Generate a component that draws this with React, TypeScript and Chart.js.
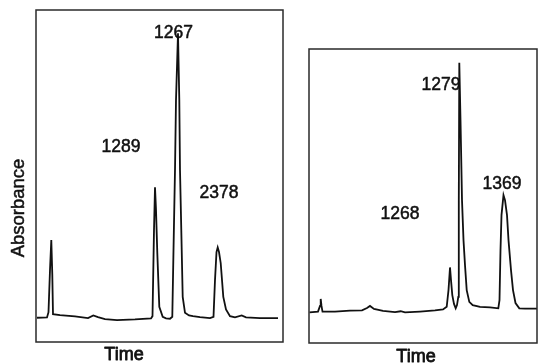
import React, { useEffect, useRef } from "react";
import { Chart, registerables } from "chart.js";

Chart.register(...registerables);

// Left chromatogram (time in min, absorbance in relative units)
const leftTime = [0.1, 1.1, 1.25, 1.4, 1.53, 1.63, 1.7, 2.4, 3.9, 5.2, 5.73, 6.2, 6.9, 8.1, 9.9, 11.5, 11.65, 11.8, 11.9, 12.0, 12.13, 12.33, 12.67, 13.0, 13.4, 13.63, 13.75, 13.9, 14.0, 14.2, 14.33, 14.4, 14.55, 14.67, 14.9, 15.3, 15.7, 16.4, 17.4, 17.75, 17.9, 18.05, 18.17, 18.3, 18.47, 18.73, 19.0, 19.4, 19.9, 20.57, 21.0, 22.4, 24.2];
const leftAbs = [7.3, 7.4, 9.0, 21.7, 30.7, 20.2, 8.4, 8.1, 7.7, 7.2, 8.0, 7.5, 6.9, 6.6, 6.8, 7.1, 7.8, 33.7, 46.6, 39.8, 26.8, 10.6, 7.6, 7.1, 7.0, 7.6, 27.7, 51.8, 72.9, 93.0, 72.9, 51.8, 30.7, 13.6, 8.8, 8.0, 7.8, 7.5, 7.2, 7.6, 18.7, 27.1, 28.5, 27.1, 23.8, 13.6, 9.8, 7.8, 7.4, 8.0, 7.4, 7.2, 7.2];
const leftPeakLabels = ["1267", "1289", "2378"];
const leftPeakLabelX = [13.75, 8.5, 18.3];
const leftPeakLabelY = [93.5, 59.2, 45.2];

// Right chromatogram
const rightTime = [0.05, 0.9, 1.1, 1.17, 1.25, 1.35, 2.6, 4.1, 5.3, 5.8, 6.1, 6.5, 7.4, 8.6, 9.17, 9.6, 11.1, 12.6, 13.4, 13.77, 13.95, 14.1, 14.2, 14.33, 14.5, 14.67, 14.8, 14.93, 14.98, 15.03, 15.15, 15.3, 15.45, 15.6, 15.77, 16.03, 16.37, 17.1, 18.1, 18.93, 19.05, 19.15, 19.25, 19.45, 19.6, 19.8, 19.95, 20.2, 20.4, 20.65, 21.03, 21.6, 22.8];
const rightAbs = [10.4, 10.7, 12.6, 15.0, 12.6, 10.7, 10.7, 11.0, 11.1, 11.9, 12.6, 11.6, 10.9, 10.5, 10.8, 10.4, 10.7, 11.1, 11.4, 12.3, 18.0, 25.7, 21.4, 16.3, 13.3, 11.8, 12.9, 15.7, 48.6, 95.3, 75.9, 48.6, 35.0, 26.5, 18.0, 14.0, 12.9, 12.3, 12.1, 11.8, 14.6, 31.6, 43.5, 50.3, 48.6, 43.5, 35.0, 24.8, 18.0, 13.6, 11.8, 11.7, 11.7];
const rightPeakLabels = ["1279", "1369", "1268"];
const rightPeakLabelX = [13.2, 19.3, 9.1];
const rightPeakLabelY = [88.1, 54.4, 44.2];

const INK = "#111111";
const FONT = "'Liberation Sans', Arial, sans-serif";

type Panel = {
  width: number;
  height: number;
  left: number;
  padding: { left: number; right: number; top: number; bottom: number };
  xMax: number;
  time: number[];
  abs: number[];
  labels: string[];
  labelX: number[];
  labelY: number[];
  timePos: [number, number];
  absorbancePos: [number, number] | null;
};

function drawText(ctx: CanvasRenderingContext2D, t: string, x: number, y: number, w: number) {
  ctx.fillText(t, x, y);
  ctx.lineWidth = w;
  ctx.strokeText(t, x, y);
}

function makePlugin(p: Panel) {
  return {
    id: "chromDecor",
    afterDraw(chart: any) {
      const ctx = chart.ctx as CanvasRenderingContext2D;
      const a = chart.chartArea;
      ctx.save();
      ctx.strokeStyle = "#2a2a2a";
      ctx.lineWidth = 1.5;
      ctx.strokeRect(a.left, a.top, a.right - a.left, a.bottom - a.top);
      ctx.fillStyle = INK;
      ctx.strokeStyle = INK;
      ctx.lineJoin = "round";
      const xs = chart.scales.x;
      const ys = chart.scales.y;
      const size = 17.5;
      ctx.font = `${size}px ${FONT}`;
      ctx.textAlign = "center";
      ctx.textBaseline = "alphabetic";
      p.labels.forEach((t, i) => {
        const px = xs.getPixelForValue(p.labelX[i]);
        const py = ys.getPixelForValue(p.labelY[i]);
        drawText(ctx, t, px, py + size * 0.358, 0.5);
      });
      const ts = 18;
      ctx.font = `${ts}px ${FONT}`;
      drawText(ctx, "Time", p.timePos[0], p.timePos[1] + ts * 0.358, 0.8);
      if (p.absorbancePos) {
        ctx.translate(p.absorbancePos[0], p.absorbancePos[1]);
        ctx.rotate(-Math.PI / 2);
        ctx.font = `18.5px ${FONT}`;
        drawText(ctx, "Absorbance", 0, 18.5 * 0.358, 0.5);
      }
      ctx.restore();
    },
  };
}

function PanelChart({ p }: { p: Panel }) {
  const ref = useRef<HTMLCanvasElement | null>(null);
  useEffect(() => {
    if (!ref.current) return;
    const chart = new Chart(ref.current, {
      type: "line",
      data: {
        datasets: [
          {
            data: p.time.map((t, i) => ({ x: t, y: p.abs[i] })),
            borderColor: INK,
            borderWidth: 1.8,
            pointRadius: 0,
            tension: 0,
            fill: false,
          },
        ],
      },
      options: {
        animation: false,
        responsive: false,
        maintainAspectRatio: false,
        devicePixelRatio: 1,
        layout: { padding: p.padding },
        plugins: { legend: { display: false }, tooltip: { enabled: false }, title: { display: false } },
        scales: {
          x: { type: "linear", min: 0, max: p.xMax, display: false },
          y: { type: "linear", min: 0, max: 100, display: false },
        },
      },
      plugins: [makePlugin(p)],
    });
    return () => chart.destroy();
  }, []);
  return (
    <canvas
      ref={ref}
      width={p.width}
      height={p.height}
      style={{ position: "absolute", left: p.left, top: 0, width: p.width, height: p.height }}
    />
  );
}

const leftPanel: Panel = {
  width: 300,
  height: 363,
  left: 0,
  padding: { left: 36, right: 17, top: 10, bottom: 21 },
  xMax: 24.7,
  time: leftTime,
  abs: leftAbs,
  labels: leftPeakLabels,
  labelX: leftPeakLabelX,
  labelY: leftPeakLabelY,
  timePos: [124, 353.5],
  absorbancePos: [17.5, 208],
};

const rightPanel: Panel = {
  width: 239,
  height: 363,
  left: 300,
  padding: { left: 9, right: 2, top: 49, bottom: 20 },
  xMax: 22.8,
  time: rightTime,
  abs: rightAbs,
  labels: rightPeakLabels,
  labelX: rightPeakLabelX,
  labelY: rightPeakLabelY,
  timePos: [116, 356],
  absorbancePos: null,
};

export default function App() {
  return (
    <div style={{ position: "absolute", left: 0, top: 0, width: 539, height: 363, background: "#fff", overflow: "hidden" }}>
      <PanelChart p={leftPanel} />
      <PanelChart p={rightPanel} />
    </div>
  );
}
